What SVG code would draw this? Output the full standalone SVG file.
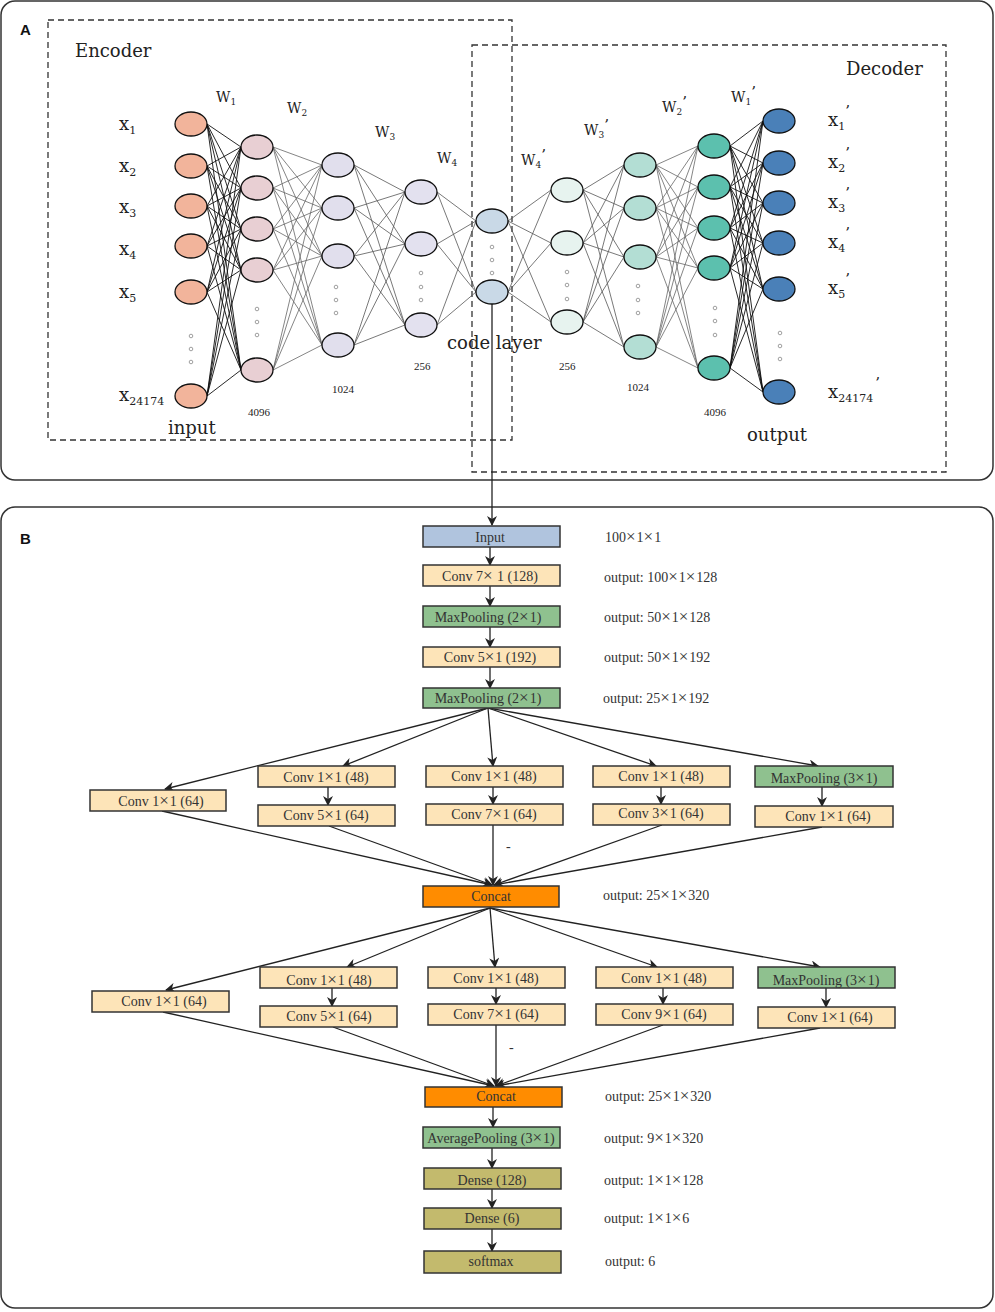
<svg xmlns="http://www.w3.org/2000/svg" width="995" height="1312" viewBox="0 0 995 1312">
<defs>
<style>
.panel{fill:#fff;stroke:#333;stroke-width:1.5}
.dash{fill:none;stroke:#333;stroke-width:1.3;stroke-dasharray:6 4}
.n{stroke:#111;stroke-width:1.3}
.dot{fill:none;stroke:#888;stroke-width:0.8}
.ser{font-family:"DejaVu Serif","Liberation Serif",serif;fill:#222}
.big{font-size:18px}
.xl{font-size:18px}
.wl{font-size:14px}
.sm{font-family:"Liberation Serif",serif;font-size:11px}
.sub{font-size:11px}
.bx{stroke:#333;stroke-width:1.5}
.conv{fill:#fde4b8}
.pool{fill:#8fc18f}
.inp{fill:#b0c4de}
.cat{fill:#ff8c00}
.dense{fill:#c3ba6d}
.bt{font-family:"Liberation Serif","Times New Roman",serif;font-size:14px;fill:#333;text-anchor:middle}
.rt{font-family:"Liberation Serif","Times New Roman",serif;font-size:14px;fill:#333}
.m{font-size:17px;letter-spacing:1px}
.ar{fill:none;stroke:#222;stroke-width:1.3;marker-end:url(#ah)}
.lab{font-family:"Liberation Sans",Arial,sans-serif;font-weight:bold;font-size:15px;fill:#111}
</style>
<marker id="ah" viewBox="0 0 10 10" refX="9" refY="5" markerWidth="11" markerHeight="10" markerUnits="userSpaceOnUse" orient="auto">
<path d="M0,0 L10,5 L0,10 L3,5 z" fill="#222"/>
</marker>
</defs>

<rect class="panel" x="1" y="1" width="992" height="479" rx="14"/>
<rect class="panel" x="1" y="507" width="992" height="801" rx="14"/>
<text class="lab" x="20" y="35">A</text>
<text class="lab" x="20" y="544">B</text>

<rect class="dash" x="48" y="20" width="464" height="420"/>
<rect class="dash" x="472" y="45" width="474" height="427"/>
<text class="ser big" x="75" y="57">Encoder</text>
<text class="ser big" x="846" y="75">Decoder</text>

<g id="connectors">
<path fill="none" stroke="#111" stroke-width="0.9" d="M207 124L241 147M207 124L241 188M207 124L241 229M207 124L241 270M207 124L241 370M207 166L241 147M207 166L241 188M207 166L241 229M207 166L241 270M207 166L241 370M207 206L241 147M207 206L241 188M207 206L241 229M207 206L241 270M207 206L241 370M207 246L241 147M207 246L241 188M207 246L241 229M207 246L241 270M207 246L241 370M207 292L241 147M207 292L241 188M207 292L241 229M207 292L241 270M207 292L241 370M207 396L241 147M207 396L241 188M207 396L241 229M207 396L241 270M207 396L241 370"/>
<path fill="none" stroke="#666" stroke-width="0.8" d="M273 147L322 165M273 147L322 208M273 147L322 256M273 147L322 345M273 188L322 165M273 188L322 208M273 188L322 256M273 188L322 345M273 229L322 165M273 229L322 208M273 229L322 256M273 229L322 345M273 270L322 165M273 270L322 208M273 270L322 256M273 270L322 345M273 370L322 165M273 370L322 208M273 370L322 256M273 370L322 345"/>
<path fill="none" stroke="#555" stroke-width="0.8" d="M354 165L405 192M354 165L405 244M354 165L405 325M354 208L405 192M354 208L405 244M354 208L405 325M354 256L405 192M354 256L405 244M354 256L405 325M354 345L405 192M354 345L405 244M354 345L405 325"/>
<path fill="none" stroke="#555" stroke-width="0.8" d="M437 192L476 221M437 192L476 292M437 244L476 221M437 244L476 292M437 325L476 221M437 325L476 292"/>
<path fill="none" stroke="#555" stroke-width="0.8" d="M508 221L551 190M508 221L551 243M508 221L551 322M508 292L551 190M508 292L551 243M508 292L551 322"/>
<path fill="none" stroke="#555" stroke-width="0.8" d="M583 190L624 165M583 190L624 208M583 190L624 257M583 190L624 347M583 243L624 165M583 243L624 208M583 243L624 257M583 243L624 347M583 322L624 165M583 322L624 208M583 322L624 257M583 322L624 347"/>
<path fill="none" stroke="#666" stroke-width="0.8" d="M656 165L698 146M656 165L698 187M656 165L698 228M656 165L698 268M656 165L698 368M656 208L698 146M656 208L698 187M656 208L698 228M656 208L698 268M656 208L698 368M656 257L698 146M656 257L698 187M656 257L698 228M656 257L698 268M656 257L698 368M656 347L698 146M656 347L698 187M656 347L698 228M656 347L698 268M656 347L698 368"/>
<path fill="none" stroke="#111" stroke-width="0.9" d="M730 146L763 121M730 146L763 163M730 146L763 203M730 146L763 243M730 146L763 289M730 146L763 392M730 187L763 121M730 187L763 163M730 187L763 203M730 187L763 243M730 187L763 289M730 187L763 392M730 228L763 121M730 228L763 163M730 228L763 203M730 228L763 243M730 228L763 289M730 228L763 392M730 268L763 121M730 268L763 163M730 268L763 203M730 268L763 243M730 268L763 289M730 268L763 392M730 368L763 121M730 368L763 163M730 368L763 203M730 368L763 243M730 368L763 289M730 368L763 392"/>

<path class="ar" d="M492 304V525"/>
<path class="ar" d="M490 547V565"/>
<path class="ar" d="M490 586V606"/>
<path class="ar" d="M490 627V647"/>
<path class="ar" d="M490 667V688"/>
<path class="ar" d="M488 708L165 789"/>
<path class="ar" d="M488 708L343 766"/>
<path class="ar" d="M488 708L493 766"/>
<path class="ar" d="M488 708L656 766"/>
<path class="ar" d="M488 708L818 766"/>
<path class="ar" d="M328 787V805"/>
<path class="ar" d="M493 787V804"/>
<path class="ar" d="M661 787V804"/>
<path class="ar" d="M822 787V806"/>
<path class="ar" d="M162 811L492 885"/>
<path class="ar" d="M329 826L492 885"/>
<path class="ar" d="M493 825V885"/>
<path class="ar" d="M662 825L494 885"/>
<path class="ar" d="M822 827L494 885"/>
<path class="ar" d="M490 908L166 990"/>
<path class="ar" d="M490 908L347 967"/>
<path class="ar" d="M490 908L495 967"/>
<path class="ar" d="M490 908L657 967"/>
<path class="ar" d="M490 908L820 967"/>
<path class="ar" d="M332 988V1006"/>
<path class="ar" d="M496 988V1004"/>
<path class="ar" d="M663 988V1004"/>
<path class="ar" d="M826 988V1007"/>
<path class="ar" d="M163 1012L494 1086"/>
<path class="ar" d="M333 1027L494 1086"/>
<path class="ar" d="M496 1025V1086"/>
<path class="ar" d="M663 1025L496 1086"/>
<path class="ar" d="M820 1028L496 1086"/>
<path class="ar" d="M493 1107V1127"/>
<path class="ar" d="M492 1148V1168"/>
<path class="ar" d="M492 1189V1208"/>
<path class="ar" d="M492 1229V1251"/>
</g>

<g id="layer-input">
<ellipse class="n" fill="#f2b49b" cx="191" cy="124" rx="16" ry="12"/>
<ellipse class="n" fill="#f2b49b" cx="191" cy="166" rx="16" ry="12"/>
<ellipse class="n" fill="#f2b49b" cx="191" cy="206" rx="16" ry="12"/>
<ellipse class="n" fill="#f2b49b" cx="191" cy="246" rx="16" ry="12"/>
<ellipse class="n" fill="#f2b49b" cx="191" cy="292" rx="16" ry="12"/>
<ellipse class="n" fill="#f2b49b" cx="191" cy="396" rx="16" ry="12"/>
<circle class="dot" cx="191" cy="336" r="1.8"/><circle class="dot" cx="191" cy="349" r="1.8"/><circle class="dot" cx="191" cy="362" r="1.8"/>
<text class="ser xl" x="119" y="130">x<tspan class="sub" dy="4">1</tspan></text>
<text class="ser xl" x="119" y="172">x<tspan class="sub" dy="4">2</tspan></text>
<text class="ser xl" x="119" y="213">x<tspan class="sub" dy="4">3</tspan></text>
<text class="ser xl" x="119" y="255">x<tspan class="sub" dy="4">4</tspan></text>
<text class="ser xl" x="119" y="298">x<tspan class="sub" dy="4">5</tspan></text>
<text class="ser xl" x="119" y="401">x<tspan class="sub" dy="4">24174</tspan></text>
<text class="ser big" x="168" y="434">input</text>
</g>

<g id="layer-4096">
<ellipse class="n" fill="#e8cfd3" cx="257" cy="147" rx="16" ry="12"/>
<ellipse class="n" fill="#e8cfd3" cx="257" cy="188" rx="16" ry="12"/>
<ellipse class="n" fill="#e8cfd3" cx="257" cy="229" rx="16" ry="12"/>
<ellipse class="n" fill="#e8cfd3" cx="257" cy="270" rx="16" ry="12"/>
<ellipse class="n" fill="#e8cfd3" cx="257" cy="370" rx="16" ry="12"/>
<circle class="dot" cx="257" cy="309" r="1.8"/><circle class="dot" cx="257" cy="322" r="1.8"/><circle class="dot" cx="257" cy="335" r="1.8"/>
<text class="sm" x="248" y="416" fill="#222">4096</text>
<text class="ser wl" x="216" y="102">W<tspan font-size="9" dy="3">1</tspan></text>
<text class="ser wl" x="287" y="113">W<tspan font-size="9" dy="3">2</tspan></text>
</g>

<g id="layer-1024">
<ellipse class="n" fill="#e1dfed" cx="338" cy="165" rx="16" ry="12"/>
<ellipse class="n" fill="#e1dfed" cx="338" cy="208" rx="16" ry="12"/>
<ellipse class="n" fill="#e1dfed" cx="338" cy="256" rx="16" ry="12"/>
<ellipse class="n" fill="#e1dfed" cx="338" cy="345" rx="16" ry="12"/>
<circle class="dot" cx="336" cy="287" r="1.8"/><circle class="dot" cx="336" cy="300" r="1.8"/><circle class="dot" cx="336" cy="313" r="1.8"/>
<text class="sm" x="332" y="393" fill="#222">1024</text>
<text class="ser wl" x="375" y="137">W<tspan font-size="9" dy="3">3</tspan></text>
</g>

<g id="layer-256">
<ellipse class="n" fill="#e3e1ef" cx="421" cy="192" rx="16" ry="12"/>
<ellipse class="n" fill="#e3e1ef" cx="421" cy="244" rx="16" ry="12"/>
<ellipse class="n" fill="#e3e1ef" cx="421" cy="325" rx="16" ry="12"/>
<circle class="dot" cx="421" cy="273" r="1.8"/><circle class="dot" cx="421" cy="287" r="1.8"/><circle class="dot" cx="421" cy="300" r="1.8"/>
<text class="sm" x="414" y="370" fill="#222">256</text>
<text class="ser wl" x="437" y="163">W<tspan font-size="9" dy="3">4</tspan></text>
</g>

<g id="code-layer">
<ellipse class="n" fill="#c9d9e7" cx="492" cy="221" rx="16" ry="12"/>
<ellipse class="n" fill="#c9d9e7" cx="492" cy="292" rx="16" ry="12"/>
<circle class="dot" cx="492" cy="247" r="1.8"/><circle class="dot" cx="492" cy="260" r="1.8"/><circle class="dot" cx="492" cy="273" r="1.8"/>
<text class="ser big" x="447" y="349">code layer</text>
</g>

<g id="layer-256d">
<ellipse class="n" fill="#e7f3ef" cx="567" cy="190" rx="16" ry="12"/>
<ellipse class="n" fill="#e7f3ef" cx="567" cy="243" rx="16" ry="12"/>
<ellipse class="n" fill="#e7f3ef" cx="567" cy="322" rx="16" ry="12"/>
<circle class="dot" cx="567" cy="272" r="1.8"/><circle class="dot" cx="567" cy="285" r="1.8"/><circle class="dot" cx="567" cy="299" r="1.8"/>
<text class="sm" x="559" y="370" fill="#222">256</text>
<text class="ser wl" x="521" y="165">W<tspan font-size="9" dy="3">4</tspan><tspan font-size="15" dy="-8">’</tspan></text>
</g>

<g id="layer-1024d">
<ellipse class="n" fill="#b3ded4" cx="640" cy="165" rx="16" ry="12"/>
<ellipse class="n" fill="#b3ded4" cx="640" cy="208" rx="16" ry="12"/>
<ellipse class="n" fill="#b3ded4" cx="640" cy="257" rx="16" ry="12"/>
<ellipse class="n" fill="#b3ded4" cx="640" cy="347" rx="16" ry="12"/>
<circle class="dot" cx="638" cy="286" r="1.8"/><circle class="dot" cx="638" cy="300" r="1.8"/><circle class="dot" cx="638" cy="313" r="1.8"/>
<text class="sm" x="627" y="391" fill="#222">1024</text>
<text class="ser wl" x="584" y="135">W<tspan font-size="9" dy="3">3</tspan><tspan font-size="15" dy="-8">’</tspan></text>
</g>

<g id="layer-4096d">
<ellipse class="n" fill="#5cc0ae" cx="714" cy="146" rx="16" ry="12"/>
<ellipse class="n" fill="#5cc0ae" cx="714" cy="187" rx="16" ry="12"/>
<ellipse class="n" fill="#5cc0ae" cx="714" cy="228" rx="16" ry="12"/>
<ellipse class="n" fill="#5cc0ae" cx="714" cy="268" rx="16" ry="12"/>
<ellipse class="n" fill="#5cc0ae" cx="714" cy="368" rx="16" ry="12"/>
<circle class="dot" cx="715" cy="308" r="1.8"/><circle class="dot" cx="715" cy="321" r="1.8"/><circle class="dot" cx="715" cy="335" r="1.8"/>
<text class="sm" x="704" y="416" fill="#222">4096</text>
<text class="ser wl" x="662" y="112">W<tspan font-size="9" dy="3">2</tspan><tspan font-size="15" dy="-8">’</tspan></text>
<text class="ser wl" x="731" y="102">W<tspan font-size="9" dy="3">1</tspan><tspan font-size="15" dy="-8">’</tspan></text>
</g>

<g id="layer-output">
<ellipse class="n" fill="#4a80b8" cx="779" cy="121" rx="16" ry="12"/>
<ellipse class="n" fill="#4a80b8" cx="779" cy="163" rx="16" ry="12"/>
<ellipse class="n" fill="#4a80b8" cx="779" cy="203" rx="16" ry="12"/>
<ellipse class="n" fill="#4a80b8" cx="779" cy="243" rx="16" ry="12"/>
<ellipse class="n" fill="#4a80b8" cx="779" cy="289" rx="16" ry="12"/>
<ellipse class="n" fill="#4a80b8" cx="779" cy="392" rx="16" ry="12"/>
<circle class="dot" cx="780" cy="333" r="1.8"/><circle class="dot" cx="780" cy="346" r="1.8"/><circle class="dot" cx="780" cy="359" r="1.8"/>
<text class="ser xl" x="828" y="126">x<tspan class="sub" dy="4">1</tspan><tspan font-size="15" dy="-14">’</tspan></text>
<text class="ser xl" x="828" y="168">x<tspan class="sub" dy="4">2</tspan><tspan font-size="15" dy="-14">’</tspan></text>
<text class="ser xl" x="828" y="208">x<tspan class="sub" dy="4">3</tspan><tspan font-size="15" dy="-14">’</tspan></text>
<text class="ser xl" x="828" y="248">x<tspan class="sub" dy="4">4</tspan><tspan font-size="15" dy="-14">’</tspan></text>
<text class="ser xl" x="828" y="294">x<tspan class="sub" dy="4">5</tspan><tspan font-size="15" dy="-14">’</tspan></text>
<text class="ser xl" x="828" y="398">x<tspan class="sub" dy="4">24174</tspan><tspan font-size="15" dy="-14" dx="2">’</tspan></text>
<text class="ser big" x="747" y="441">output</text>
</g>

<g id="b-input"><rect class="bx inp" x="423" y="526" width="137" height="21"/><text class="bt" x="490" y="542">Input</text><text class="rt" x="605" y="542">100<tspan class="m">×</tspan>1<tspan class="m">×</tspan>1</text></g>
<g id="b-conv1"><rect class="bx conv" x="423" y="565" width="137" height="21"/><text class="bt" x="490" y="581">Conv 7<tspan class="m">×</tspan> 1 (128)</text><text class="rt" x="604" y="582">output: 100<tspan class="m">×</tspan>1<tspan class="m">×</tspan>128</text></g>
<g id="b-pool1"><rect class="bx pool" x="423" y="606" width="137" height="21"/><text class="bt" x="488" y="622">MaxPooling  (2<tspan class="m">×</tspan>1)</text><text class="rt" x="604" y="622">output: 50<tspan class="m">×</tspan>1<tspan class="m">×</tspan>128</text></g>
<g id="b-conv2"><rect class="bx conv" x="423" y="647" width="137" height="20"/><text class="bt" x="490" y="662">Conv  5<tspan class="m">×</tspan>1 (192)</text><text class="rt" x="604" y="662">output: 50<tspan class="m">×</tspan>1<tspan class="m">×</tspan>192</text></g>
<g id="b-pool2"><rect class="bx pool" x="423" y="688" width="137" height="20"/><text class="bt" x="488" y="703">MaxPooling  (2<tspan class="m">×</tspan>1)</text><text class="rt" x="603" y="703">output: 25<tspan class="m">×</tspan>1<tspan class="m">×</tspan>192</text></g>

<g id="r1-b1"><rect class="bx conv" x="90" y="790" width="136" height="21"/><text class="bt" x="161" y="806">Conv 1<tspan class="m">×</tspan>1 (64)</text></g>
<g id="r1-b2a"><rect class="bx conv" x="258" y="766" width="137" height="21"/><text class="bt" x="326" y="782">Conv 1<tspan class="m">×</tspan>1 (48)</text></g>
<g id="r1-b2b"><rect class="bx conv" x="258" y="805" width="137" height="21"/><text class="bt" x="326" y="820">Conv 5<tspan class="m">×</tspan>1 (64)</text></g>
<g id="r1-b3a"><rect class="bx conv" x="426" y="766" width="137" height="21"/><text class="bt" x="494" y="781">Conv 1<tspan class="m">×</tspan>1 (48)</text></g>
<g id="r1-b3b"><rect class="bx conv" x="426" y="804" width="137" height="21"/><text class="bt" x="494" y="819">Conv 7<tspan class="m">×</tspan>1 (64)</text></g>
<g id="r1-b4a"><rect class="bx conv" x="593" y="766" width="137" height="21"/><text class="bt" x="661" y="781">Conv 1<tspan class="m">×</tspan>1 (48)</text></g>
<g id="r1-b4b"><rect class="bx conv" x="593" y="804" width="137" height="21"/><text class="bt" x="661" y="818">Conv 3<tspan class="m">×</tspan>1 (64)</text></g>
<g id="r1-b5a"><rect class="bx pool" x="755" y="766" width="138" height="21"/><text class="bt" x="824" y="783">MaxPooling   (3<tspan class="m">×</tspan>1)</text></g>
<g id="r1-b5b"><rect class="bx conv" x="755" y="806" width="138" height="21"/><text class="bt" x="828" y="821">Conv 1<tspan class="m">×</tspan>1   (64)</text></g>
<text class="rt" x="506" y="851">-</text>

<g id="concat1"><rect class="bx cat" x="423" y="886" width="136" height="21"/><text class="bt" x="491" y="901">Concat</text><text class="rt" x="603" y="900">output: 25<tspan class="m">×</tspan>1<tspan class="m">×</tspan>320</text></g>

<g id="r2-b1"><rect class="bx conv" x="92" y="991" width="137" height="21"/><text class="bt" x="164" y="1006">Conv 1<tspan class="m">×</tspan>1 (64)</text></g>
<g id="r2-b2a"><rect class="bx conv" x="260" y="967" width="137" height="21"/><text class="bt" x="329" y="985">Conv 1<tspan class="m">×</tspan>1 (48)</text></g>
<g id="r2-b2b"><rect class="bx conv" x="260" y="1006" width="137" height="21"/><text class="bt" x="329" y="1021">Conv 5<tspan class="m">×</tspan>1 (64)</text></g>
<g id="r2-b3a"><rect class="bx conv" x="428" y="967" width="137" height="21"/><text class="bt" x="496" y="983">Conv 1<tspan class="m">×</tspan>1 (48)</text></g>
<g id="r2-b3b"><rect class="bx conv" x="428" y="1004" width="137" height="21"/><text class="bt" x="496" y="1019">Conv 7<tspan class="m">×</tspan>1 (64)</text></g>
<g id="r2-b4a"><rect class="bx conv" x="596" y="967" width="137" height="21"/><text class="bt" x="664" y="983">Conv 1<tspan class="m">×</tspan>1 (48)</text></g>
<g id="r2-b4b"><rect class="bx conv" x="596" y="1004" width="137" height="21"/><text class="bt" x="664" y="1019">Conv 9<tspan class="m">×</tspan>1 (64)</text></g>
<g id="r2-b5a"><rect class="bx pool" x="758" y="967" width="137" height="21"/><text class="bt" x="826" y="985">MaxPooling   (3<tspan class="m">×</tspan>1)</text></g>
<g id="r2-b5b"><rect class="bx conv" x="758" y="1007" width="137" height="21"/><text class="bt" x="830" y="1022">Conv 1<tspan class="m">×</tspan>1   (64)</text></g>
<text class="rt" x="509" y="1052">-</text>

<g id="concat2"><rect class="bx cat" x="425" y="1087" width="137" height="20"/><text class="bt" x="496" y="1101">Concat</text><text class="rt" x="605" y="1101">output: 25<tspan class="m">×</tspan>1<tspan class="m">×</tspan>320</text></g>
<g id="avgpool"><rect class="bx pool" x="423" y="1127" width="137" height="21"/><text class="bt" x="491" y="1143">AveragePooling (3<tspan class="m">×</tspan>1)</text><text class="rt" x="604" y="1143">output: 9<tspan class="m">×</tspan>1<tspan class="m">×</tspan>320</text></g>
<g id="dense128"><rect class="bx dense" x="424" y="1168" width="137" height="21"/><text class="bt" x="492" y="1185">Dense  (128)</text><text class="rt" x="604" y="1185">output: 1<tspan class="m">×</tspan>1<tspan class="m">×</tspan>128</text></g>
<g id="dense6"><rect class="bx dense" x="424" y="1208" width="137" height="21"/><text class="bt" x="492" y="1223">Dense  (6)</text><text class="rt" x="604" y="1223">output: 1<tspan class="m">×</tspan>1<tspan class="m">×</tspan>6</text></g>
<g id="softmax"><rect class="bx dense" x="424" y="1251" width="137" height="22"/><text class="bt" x="491" y="1266">softmax</text><text class="rt" x="605" y="1266">output: 6</text></g>
</svg>
